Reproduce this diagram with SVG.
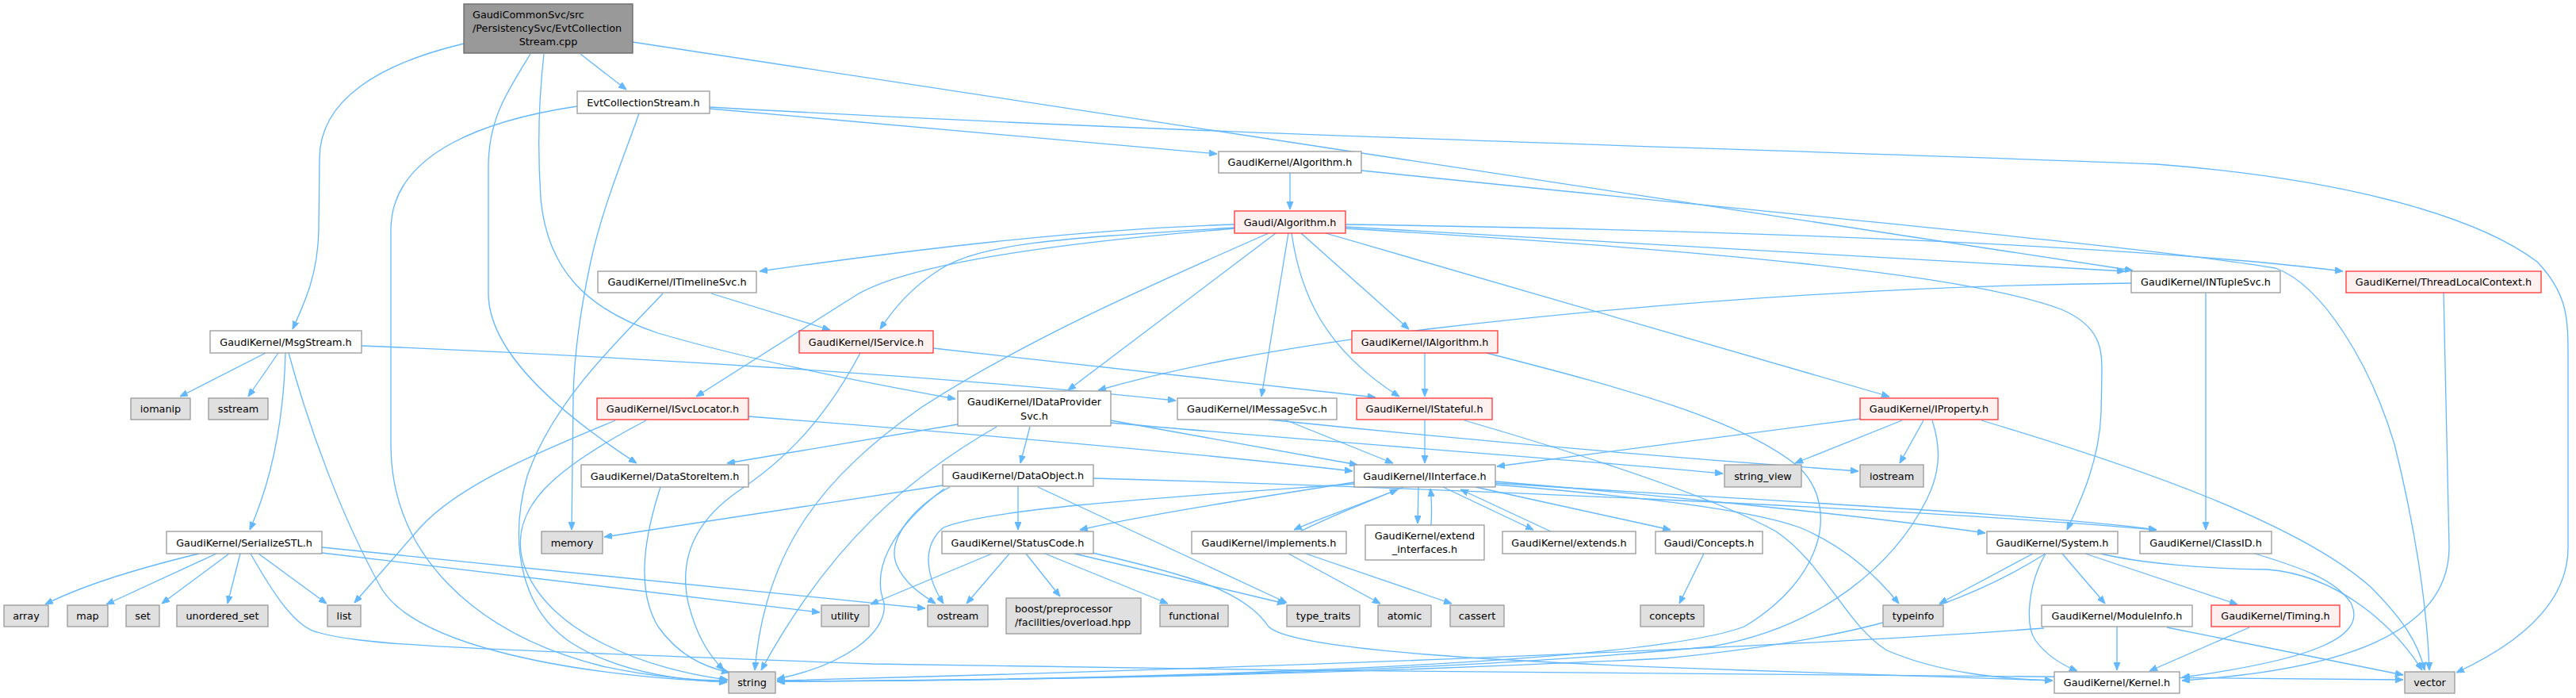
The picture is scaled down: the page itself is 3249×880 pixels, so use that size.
<svg xmlns="http://www.w3.org/2000/svg" width="3249" height="880" viewBox="0 0 3249 880">
<style>
.nd rect{fill:#ffffff;stroke:#999999;stroke-width:1.3}
.rd rect{fill:#fff0f0;stroke:#ff3333;stroke-width:1.3}
.gy rect{fill:#e0e0e0;stroke:#999999;stroke-width:1.3}
.rt rect{fill:#999999;stroke:#666666;stroke-width:1.3}
text{font-family:"DejaVu Sans",sans-serif;font-size:12.8px;fill:#000000;text-anchor:middle}
text.l{text-anchor:start}
#edges path{fill:none;stroke:#63b8ff;stroke-width:1.3;marker-end:url(#ah)}
</style>
<defs>
<marker id="ah" viewBox="0 0 10 8" refX="10" refY="4" markerWidth="10" markerHeight="8" markerUnits="userSpaceOnUse" orient="auto"><path d="M0,0 L10,4 L0,8 z" fill="#63b8ff" stroke="#63b8ff" stroke-width="1"/></marker>
</defs>
<rect x="0" y="0" width="3249" height="880" fill="#ffffff"/>
<g id="edges">
<path d="M732,68 L790,113"/>
<path d="M585,55 C480,80 403,125 403,200 L402,290 C401,345 385,380 369,415"/>
<path d="M669,68 C640,115 616,150 616,210 L616,370 C616,450 720,530 803,584"/>
<path d="M686,68 C679,130 678,190 682,250 C690,340 740,390 830,420 C950,455 1080,480 1205,503"/>
<path d="M798,53 L2690,341"/>
<path d="M895,137 L1535,194"/>
<path d="M806,143 C790,190 760,260 745,330 C730,400 724,450 723,500 L721,668"/>
<path d="M728,134 C620,150 493,190 493,290 L493,560 C493,700 600,800 760,840 C830,855 880,858 917,858"/>
<path d="M895,135 C1500,170 2300,190 2720,207 C2950,225 3120,270 3200,330 C3238,370 3239,400 3239,450 L3239,690 C3239,760 3180,810 3098,848"/>
<path d="M1627,218 L1627,264"/>
<path d="M1717,215 C2200,265 2700,310 2870,338 C2930,360 2990,460 3020,560 C3050,680 3062,780 3064,845"/>
<path d="M1557,283 C1350,290 1150,315 958,342"/>
<path d="M1557,287 C1350,300 1240,305 1185,340 C1150,362 1128,388 1110,415"/>
<path d="M1557,288 C1350,305 1150,330 1080,372 L878,500"/>
<path d="M1600,294 C1450,360 1290,430 1160,515 C1040,600 965,690 952,845"/>
<path d="M1609,294 L1347,492"/>
<path d="M1625,294 L1591,500"/>
<path d="M1629,294 C1640,370 1670,440 1765,500"/>
<path d="M1641,294 L1777,415"/>
<path d="M1672,294 L2383,500"/>
<path d="M1697,283 C2200,290 2700,310 2955,342"/>
<path d="M1697,286 L2680,342"/>
<path d="M1697,288 C2150,315 2480,345 2600,390 C2650,412 2651,440 2651,470 L2650,520 C2648,580 2625,630 2607,668"/>
<path d="M897,370 L1047,416"/>
<path d="M836,370 C790,420 700,500 665,600 C640,690 660,770 720,810 C780,848 860,858 917,860"/>
<path d="M1177,439 L1735,501"/>
<path d="M1085,445 C1040,530 990,580 930,620 C880,655 855,700 868,760 C878,800 893,825 913,845"/>
<path d="M1797,445 L1797,500"/>
<path d="M1875,445 C2050,490 2200,530 2270,590 C2320,640 2300,730 2200,790 C2050,845 1300,858 980,859"/>
<path d="M1797,529 L1797,584"/>
<path d="M1847,530 C1950,560 2150,620 2240,670 C2300,710 2330,790 2380,820 C2450,850 2530,856 2589,858"/>
<path d="M1770,614 C1720,635 1660,655 1632,668"/>
<path d="M1640,670 C1680,650 1720,635 1763,617"/>
<path d="M1789,614 L1788,660"/>
<path d="M1805,662 C1806,645 1806,632 1804,616"/>
<path d="M1820,614 L1934,668"/>
<path d="M1956,670 L1842,617"/>
<path d="M1861,614 L2107,668"/>
<path d="M1886,607 C2100,625 2350,650 2504,672"/>
<path d="M1886,609 C2200,630 2600,650 2720,668"/>
<path d="M1886,611 C2050,625 2200,640 2270,665 C2330,690 2370,730 2395,761"/>
<path d="M1708,608 C1600,625 1450,648 1362,668"/>
<path d="M1708,610 C1500,625 1250,640 1190,665 C1160,690 1170,730 1190,761"/>
<path d="M944,525 C1200,545 1500,570 1706,594"/>
<path d="M776,530 C680,570 580,610 530,665 L447,760"/>
<path d="M815,530 C700,590 640,640 660,710 C690,800 820,845 918,857"/>
<path d="M833,614 C815,670 800,740 830,790 C855,825 885,840 920,848"/>
<path d="M1208,535 L917,584"/>
<path d="M1299,538 L1287,584"/>
<path d="M1401,530 L1712,586"/>
<path d="M1257,538 C1150,600 1050,680 960,845"/>
<path d="M1401,533 C1700,560 2000,580 2173,597"/>
<path d="M1620,529 L1757,584"/>
<path d="M1600,529 C1900,560 2150,580 2344,594"/>
<path d="M456,436 C800,450 1200,475 1483,505"/>
<path d="M335,445 L227,500"/>
<path d="M351,445 L313,500"/>
<path d="M360,445 C358,520 345,600 315,668"/>
<path d="M364,445 C390,540 430,650 480,740 C520,810 700,850 917,860"/>
<path d="M251,698 C160,720 100,740 57,762"/>
<path d="M273,698 L134,762"/>
<path d="M289,698 L204,761"/>
<path d="M303,698 L287,761"/>
<path d="M326,698 L412,761"/>
<path d="M406,690 L1167,767"/>
<path d="M406,697 L1034,772"/>
<path d="M316,698 C340,740 370,790 400,797 C460,815 600,818 1100,837 L1640,845 L3031,857"/>
<path d="M1189,612 L762,677"/>
<path d="M1284,613 L1284,668"/>
<path d="M1198,614 C1150,640 1120,680 1130,710 C1140,735 1160,748 1180,761"/>
<path d="M1191,616 C1120,670 1100,720 1115,760 C1120,800 1060,840 980,856"/>
<path d="M1379,603 C1800,615 2400,640 2720,668"/>
<path d="M1309,614 L1623,760"/>
<path d="M1251,698 L1098,762"/>
<path d="M1273,698 L1219,761"/>
<path d="M1294,698 L1337,752"/>
<path d="M1318,698 L1473,761"/>
<path d="M1355,698 L1621,761"/>
<path d="M1378,697 C1500,725 1570,745 1600,790 C1630,820 1900,835 2200,845 L2589,858"/>
<path d="M1625,698 L1741,761"/>
<path d="M1647,698 L1831,761"/>
<path d="M2149,698 L2118,761"/>
<path d="M2564,698 L2446,761"/>
<path d="M2580,698 C2450,780 2300,810 2100,830 C1700,850 1300,858 980,859"/>
<path d="M2580,698 C2556,740 2555,790 2567,807 C2580,825 2600,838 2620,846"/>
<path d="M2601,698 L2655,761"/>
<path d="M2630,698 L2822,762"/>
<path d="M2649,698 C2700,710 2780,717 2860,718 C2950,725 3020,790 3055,845"/>
<path d="M2670,790 L2670,845"/>
<path d="M2578,792 C2200,820 1500,845 980,858"/>
<path d="M2733,791 L3031,851"/>
<path d="M2837,791 L2711,846"/>
<path d="M2844,698 C2900,715 2945,730 2965,760 C2985,800 2930,830 2752,854"/>
<path d="M3082,369 L3089,690 C3089,800 2950,845 2752,858"/>
<path d="M2782,369 L2782,668"/>
<path d="M2688,357 C2400,360 2100,380 1800,415 C1600,440 1480,465 1385,492"/>
<path d="M2346,528 L1888,588"/>
<path d="M2399,530 L2264,584"/>
<path d="M2426,530 L2396,584"/>
<path d="M2437,530 C2450,570 2445,600 2430,630 C2390,710 2300,790 2160,815 C1800,850 1300,858 980,859"/>
<path d="M2499,530 C2700,590 2900,660 2990,740 C3030,780 3050,810 3058,845"/>
</g>
<g id="n_root" class="rt"><rect x="585" y="5" width="213" height="62"/><text class="l" x="596" y="23">GaudiCommonSvc/src</text><text class="l" x="596" y="40">/PersistencySvc/EvtCollection</text><text x="691.5" y="57">Stream.cpp</text></g>
<g id="n_evt" class="nd"><rect x="728" y="115" width="167" height="28"/><text x="811.5" y="133.5">EvtCollectionStream.h</text></g>
<g id="n_gkalg" class="nd"><rect x="1537" y="191" width="180" height="27"/><text x="1627" y="209">GaudiKernel/Algorithm.h</text></g>
<g id="n_galg" class="rd"><rect x="1557" y="266" width="140" height="28"/><text x="1627" y="284.5">Gaudi/Algorithm.h</text></g>
<g id="n_timeline" class="nd"><rect x="754" y="342" width="200" height="27"/><text x="854" y="360">GaudiKernel/ITimelineSvc.h</text></g>
<g id="n_ntuple" class="nd"><rect x="2688" y="342" width="188" height="27"/><text x="2782" y="360">GaudiKernel/INTupleSvc.h</text></g>
<g id="n_tlc" class="rd"><rect x="2959" y="342" width="246" height="27"/><text x="3082" y="360">GaudiKernel/ThreadLocalContext.h</text></g>
<g id="n_msg" class="nd"><rect x="265" y="417" width="191" height="28"/><text x="360.5" y="435.5">GaudiKernel/MsgStream.h</text></g>
<g id="n_iservice" class="rd"><rect x="1008" y="417" width="169" height="28"/><text x="1092.5" y="435.5">GaudiKernel/IService.h</text></g>
<g id="n_ialg" class="rd"><rect x="1705" y="417" width="184" height="28"/><text x="1797" y="435.5">GaudiKernel/IAlgorithm.h</text></g>
<g id="n_iomanip" class="gy"><rect x="165" y="502" width="75" height="27"/><text x="202.5" y="520">iomanip</text></g>
<g id="n_sstream" class="gy"><rect x="263" y="502" width="75" height="27"/><text x="300.5" y="520">sstream</text></g>
<g id="n_isvcloc" class="rd"><rect x="753" y="502" width="191" height="27"/><text x="848.5" y="520">GaudiKernel/ISvcLocator.h</text></g>
<g id="n_idp" class="nd"><rect x="1208" y="493" width="193" height="44"/><text x="1304.5" y="511">GaudiKernel/IDataProvider</text><text x="1304.5" y="528.5">Svc.h</text></g>
<g id="n_imsg" class="nd"><rect x="1485" y="502" width="201" height="27"/><text x="1585.5" y="520">GaudiKernel/IMessageSvc.h</text></g>
<g id="n_istateful" class="rd"><rect x="1711" y="502" width="171" height="27"/><text x="1796.5" y="520">GaudiKernel/IStateful.h</text></g>
<g id="n_iprop" class="rd"><rect x="2346" y="502" width="174" height="27"/><text x="2433" y="520">GaudiKernel/IProperty.h</text></g>
<g id="n_dsi" class="nd"><rect x="733" y="586" width="211" height="28"/><text x="838.5" y="604.5">GaudiKernel/DataStoreItem.h</text></g>
<g id="n_dobj" class="nd"><rect x="1189" y="586" width="190" height="27"/><text x="1284" y="604">GaudiKernel/DataObject.h</text></g>
<g id="n_iint" class="nd"><rect x="1708" y="586" width="178" height="28"/><text x="1797" y="604.5">GaudiKernel/IInterface.h</text></g>
<g id="n_sv" class="gy"><rect x="2175" y="586" width="97" height="28"/><text x="2223.5" y="604.5">string_view</text></g>
<g id="n_iostream" class="gy"><rect x="2346" y="586" width="80" height="28"/><text x="2386" y="604.5">iostream</text></g>
<g id="n_sstl" class="nd"><rect x="210" y="670" width="196" height="28"/><text x="308" y="688.5">GaudiKernel/SerializeSTL.h</text></g>
<g id="n_memory" class="gy"><rect x="683" y="670" width="77" height="28"/><text x="721.5" y="688.5">memory</text></g>
<g id="n_sc" class="nd"><rect x="1188" y="670" width="191" height="28"/><text x="1283.5" y="688.5">GaudiKernel/StatusCode.h</text></g>
<g id="n_impl" class="nd"><rect x="1503" y="670" width="195" height="28"/><text x="1600.5" y="688.5">GaudiKernel/implements.h</text></g>
<g id="n_extif" class="nd"><rect x="1722" y="662" width="150" height="44"/><text x="1797" y="680">GaudiKernel/extend</text><text x="1797" y="697">_interfaces.h</text></g>
<g id="n_extends" class="nd"><rect x="1895" y="670" width="168" height="28"/><text x="1979" y="688.5">GaudiKernel/extends.h</text></g>
<g id="n_concepts_h" class="nd"><rect x="2088" y="670" width="135" height="28"/><text x="2155.5" y="688.5">Gaudi/Concepts.h</text></g>
<g id="n_system" class="nd"><rect x="2506" y="670" width="165" height="28"/><text x="2588.5" y="688.5">GaudiKernel/System.h</text></g>
<g id="n_classid" class="nd"><rect x="2699" y="670" width="166" height="28"/><text x="2782" y="688.5">GaudiKernel/ClassID.h</text></g>
<g id="n_array" class="gy"><rect x="5" y="763" width="56" height="27"/><text x="33" y="781">array</text></g>
<g id="n_map" class="gy"><rect x="85" y="763" width="51" height="27"/><text x="110.5" y="781">map</text></g>
<g id="n_set" class="gy"><rect x="159" y="763" width="42" height="27"/><text x="180" y="781">set</text></g>
<g id="n_uset" class="gy"><rect x="223" y="763" width="115" height="27"/><text x="280.5" y="781">unordered_set</text></g>
<g id="n_list" class="gy"><rect x="413" y="763" width="42" height="27"/><text x="434" y="781">list</text></g>
<g id="n_utility" class="gy"><rect x="1036" y="763" width="60" height="27"/><text x="1066" y="781">utility</text></g>
<g id="n_ostream" class="gy"><rect x="1170" y="763" width="76" height="27"/><text x="1208" y="781">ostream</text></g>
<g id="n_boost" class="gy"><rect x="1269" y="754" width="170" height="45"/><text class="l" x="1280" y="772">boost/preprocessor</text><text class="l" x="1280" y="789">/facilities/overload.hpp</text></g>
<g id="n_functional" class="gy"><rect x="1463" y="763" width="86" height="27"/><text x="1506" y="781">functional</text></g>
<g id="n_tt" class="gy"><rect x="1623" y="763" width="92" height="27"/><text x="1669" y="781">type_traits</text></g>
<g id="n_atomic" class="gy"><rect x="1738" y="763" width="67" height="27"/><text x="1771.5" y="781">atomic</text></g>
<g id="n_cassert" class="gy"><rect x="1829" y="763" width="68" height="27"/><text x="1863" y="781">cassert</text></g>
<g id="n_concepts" class="gy"><rect x="2069" y="763" width="80" height="27"/><text x="2109" y="781">concepts</text></g>
<g id="n_typeinfo" class="gy"><rect x="2375" y="763" width="76" height="27"/><text x="2413" y="781">typeinfo</text></g>
<g id="n_modinfo" class="nd"><rect x="2575" y="763" width="190" height="27"/><text x="2670" y="781">GaudiKernel/ModuleInfo.h</text></g>
<g id="n_timing" class="rd"><rect x="2789" y="763" width="162" height="27"/><text x="2870" y="781">GaudiKernel/Timing.h</text></g>
<g id="n_string" class="gy"><rect x="919" y="847" width="59" height="27"/><text x="948.5" y="865">string</text></g>
<g id="n_kernel" class="nd"><rect x="2591" y="847" width="158" height="27"/><text x="2670" y="865">GaudiKernel/Kernel.h</text></g>
<g id="n_vector" class="gy"><rect x="3033" y="847" width="63" height="27"/><text x="3064.5" y="865">vector</text></g>
</svg>
